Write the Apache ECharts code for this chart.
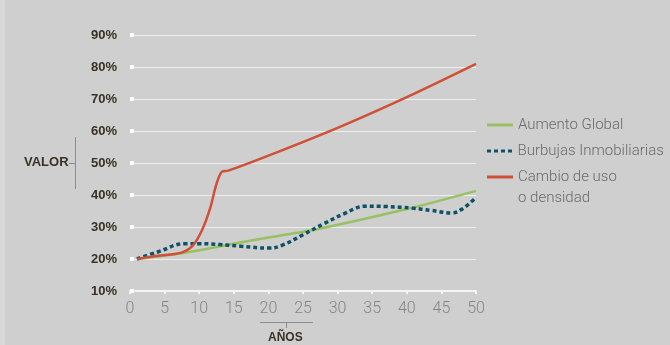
<!DOCTYPE html>
<html>
<head>
<meta charset="utf-8">
<script src="https://cdn.jsdelivr.net/npm/echarts@6/dist/echarts.min.js"></script>
<style>
  html, body { margin: 0; padding: 0; background: #cfcfcf; }
  #chart { width: 670px; height: 345px; }
</style>
</head>
<body>
<div id="chart"></div>
<script>
// Year positions and percentage values for each scenario
const greenYears = [1, 7.5, 17.5, 27, 40, 50];
const greenValues = [20, 21.8, 25.8, 29.3, 35.6, 41.3];

const blueYears = [1, 4, 8, 10, 13, 16, 20, 22, 25, 28, 31, 34, 37, 40.7, 43.5, 46.5, 48, 50];
const blueValues = [20, 22.2, 24.8, 24.8, 24.5, 24, 23.4, 24.3, 27.6, 31, 34.2, 36.5, 36.4, 35.9, 35.2, 34.4, 35.6, 39.3];

const redYears = [1, 4, 7.3, 9, 10.4, 11.6, 12.5, 13.3, 14.2, 20, 30, 40, 50];
const redValues = [20, 21, 21.9, 24, 29, 36, 43.5, 47.3, 47.6, 52.3, 61, 70.6, 81];

const seriesNames = ['Aumento Global', 'Burbujas Inmobiliarias', 'Cambio de uso o densidad'];
const xTicks = { min: 0, max: 50, step: 5 };
const yTicks = { min: 10, max: 90, step: 10 };

const pairs = (xs, ys) => xs.map((x, i) => [x, ys[i]]);

const chart = echarts.init(document.getElementById('chart'), null, { renderer: 'canvas' });

const legendText = {
  fontFamily: 'Roboto, "Liberation Sans", sans-serif',
  fontWeight: 300,
  fontSize: 15,
  color: '#6a6a6a',
  lineHeight: 21
};

const legendBase = {
  left: 487,
  orient: 'vertical',
  itemWidth: 26,
  itemHeight: 3,
  itemGap: 5,
  padding: 0,
  selectedMode: false,
  textStyle: legendText
};

// four small squares for the dotted key
const dottedIcon = 'path://M0,0h4v3h-4z M7,0h4v3h-4z M14,0h4v3h-4z M21,0h4v3h-4z';

chart.setOption({
  backgroundColor: '#cfcfcf',
  animation: false,
  grid: { left: 130, right: 194, top: 35, bottom: 54 },
  xAxis: {
    type: 'value',
    min: xTicks.min,
    max: xTicks.max,
    interval: xTicks.step,
    axisLine: { show: true, lineStyle: { color: '#f4f4f4', width: 2 } },
    axisTick: { show: true, length: 3, lineStyle: { color: '#f4f4f4', width: 2 } },
    splitLine: { show: false },
    axisLabel: {
      margin: 10,
      fontFamily: 'Roboto, "Liberation Sans", sans-serif',
      fontWeight: 300,
      fontSize: 16,
      color: '#858585'
    }
  },
  yAxis: {
    type: 'value',
    min: yTicks.min,
    max: yTicks.max,
    interval: yTicks.step,
    offset: 2,
    axisLine: { show: false },
    axisTick: { show: true, inside: true, length: 4, lineStyle: { color: '#ffffff', width: 4 } },
    splitLine: { show: true, lineStyle: { color: 'rgba(255,255,255,0.65)', width: 1 } },
    axisLabel: {
      margin: 11,
      formatter: v => v + '%',
      fontFamily: '"Liberation Sans", Arial, sans-serif',
      fontWeight: 'bold',
      fontSize: 13,
      color: '#3a3124'
    }
  },
  legend: [
    Object.assign({}, legendBase, { top: 114.5, data: [{ name: seriesNames[0], icon: 'rect' }] }),
    Object.assign({}, legendBase, { top: 140.5, data: [{ name: seriesNames[1], icon: dottedIcon }] }),
    Object.assign({}, legendBase, {
      top: 145.5,
      data: [{ name: seriesNames[2], icon: 'rect' }],
      // blank first line keeps the key level with "Cambio de uso"
      formatter: () => ' \nCambio de uso\no densidad'
    })
  ],
  series: [
    {
      name: seriesNames[0],
      type: 'line',
      data: pairs(greenYears, greenValues),
      smooth: 0.3,
      symbol: 'none',
      z: 2,
      lineStyle: { color: '#97c163', width: 2.5 },
      itemStyle: { color: '#97c163' }
    },
    {
      name: seriesNames[1],
      type: 'line',
      data: pairs(blueYears, blueValues),
      smooth: 0.4,
      symbol: 'none',
      z: 3,
      lineStyle: { color: '#0f5266', width: 3.5, type: [4, 3] },
      itemStyle: { color: '#0f5266' }
    },
    {
      name: seriesNames[2],
      type: 'line',
      data: pairs(redYears, redValues),
      smooth: 0.3,
      symbol: 'none',
      z: 4,
      lineStyle: { color: '#cf5037', width: 2.5 },
      itemStyle: { color: '#cf5037' }
    }
  ],
  graphic: [
    { type: 'rect', left: 0, top: 0, shape: { width: 5, height: 345 }, style: { fill: '#d8d8d8' }, silent: true },
    {
      type: 'text', left: 24, top: 156,
      style: { text: 'VALOR', fontFamily: '"Liberation Sans", Arial, sans-serif', fontWeight: 'bold', fontSize: 13, fill: '#3a3124' }
    },
    { type: 'line', shape: { x1: 69, y1: 163.5, x2: 75, y2: 163.5 }, style: { stroke: '#8c8c8c', lineWidth: 1 } },
    { type: 'line', shape: { x1: 75.5, y1: 137, x2: 75.5, y2: 189 }, style: { stroke: '#8c8c8c', lineWidth: 1 } },
    { type: 'line', shape: { x1: 260, y1: 322.5, x2: 313, y2: 322.5 }, style: { stroke: '#8c8c8c', lineWidth: 1 } },
    { type: 'line', shape: { x1: 286.5, y1: 322, x2: 286.5, y2: 328 }, style: { stroke: '#8c8c8c', lineWidth: 1 } },
    {
      type: 'text', left: 268, top: 332,
      style: { text: 'AÑOS', fontFamily: '"Liberation Sans", Arial, sans-serif', fontWeight: 'bold', fontSize: 12, fill: '#3a3124' }
    }
  ]
});
</script>
</body>
</html>
